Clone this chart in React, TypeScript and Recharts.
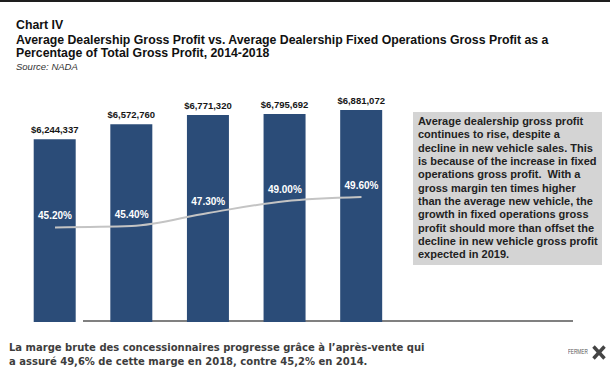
import React from 'react'
import { ComposedChart, Bar, Line, XAxis, YAxis, LabelList } from 'recharts'

const years = ['2014', '2015', '2016', '2017', '2018']
const grossProfit = [6244337, 6572760, 6771320, 6795692, 6881072]
const fixedOpsShare = [45.2, 45.4, 47.3, 49.0, 49.6]

const data = years.map((year, i) => ({
  year,
  profit: grossProfit[i],
  share: fixedOpsShare[i],
}))

const FONT = '"Liberation Sans", Arial, Helvetica, sans-serif'

const fmtDollar = (v: number) => '$' + Number(v).toLocaleString('en-US')
const fmtPct = (v: number) => Number(v).toFixed(2) + '%'

export default function App() {
  return (
    <div
      style={{
        position: 'absolute',
        left: 0,
        top: 0,
        width: 610,
        height: 370,
        background: '#fff',
        overflow: 'hidden',
        fontFamily: FONT,
      }}
    >
      <div style={{ position: 'absolute', left: 0, top: 0, width: 610, height: 2, background: '#1e1e1e' }} />

      <div style={{ position: 'absolute', left: 16, top: 19, fontSize: 12.3, lineHeight: '12px', fontWeight: 700, color: '#111' }}>
        Chart IV
      </div>
      <div style={{ position: 'absolute', left: 16, top: 33.6, fontSize: 12.3, lineHeight: '13.3px', fontWeight: 700, color: '#111', whiteSpace: 'nowrap' }}>
        Average Dealership Gross Profit vs. Average Dealership Fixed Operations Gross Profit as a
        <br />
        Percentage of Total Gross Profit, 2014-2018
      </div>
      <div style={{ position: 'absolute', left: 16, top: 62, fontSize: 9.5, lineHeight: '10px', fontStyle: 'italic', color: '#333' }}>
        Source: NADA
      </div>

      {/* baseline rule, drawn behind the bars */}
      <div style={{ position: 'absolute', left: 83, top: 320, width: 490, height: 1.5, background: '#808080' }} />

      <div style={{ position: 'absolute', left: 0, top: 0 }}>
        <ComposedChart
          width={610}
          height={370}
          data={data}
          margin={{ top: 104.6, right: 210.2, bottom: 48, left: 16.7 }}
        >
          <XAxis dataKey="year" hide />
          <YAxis yAxisId="left" hide domain={[2250000, 7000000]} />
          <YAxis yAxisId="right" orientation="right" hide domain={[31.5, 63]} />
          <Bar yAxisId="left" dataKey="profit" fill="#2b4c78" barSize={42} isAnimationActive={false}>
            <LabelList
              dataKey="profit"
              position="top"
              offset={6}
              formatter={fmtDollar}
              style={{ fontFamily: FONT, fontSize: 9.5, fontWeight: 700, fill: '#161616' }}
            />
          </Bar>
          <Line
            yAxisId="right"
            type="monotone"
            dataKey="share"
            stroke="#c4c4c4"
            strokeWidth={2}
            dot={false}
            activeDot={false}
            isAnimationActive={false}
          >
            <LabelList
              dataKey="share"
              position="top"
              offset={8}
              formatter={fmtPct}
              style={{ fontFamily: FONT, fontSize: 10, fontWeight: 700, fill: '#ffffff' }}
            />
          </Line>
        </ComposedChart>
      </div>

      <div
        style={{
          position: 'absolute',
          left: 413,
          top: 112,
          width: 189,
          height: 153,
          boxSizing: 'border-box',
          padding: '3px 0 0 5px',
          background: '#d4d4d4',
          fontSize: 11,
          lineHeight: '13.33px',
          fontWeight: 700,
          color: '#222',
        }}
      >
        Average dealership gross profit
        <br />
        continues to rise, despite a
        <br />
        decline in new vehicle sales. This
        <br />
        is because of the increase in fixed
        <br />
        operations gross profit.&nbsp; With a
        <br />
        gross margin ten times higher
        <br />
        than the average new vehicle, the
        <br />
        growth in fixed operations gross
        <br />
        profit should more than offset the
        <br />
        decline in new vehicle gross profit
        <br />
        expected in 2019.
      </div>

      <div
        style={{
          position: 'absolute',
          left: 9,
          top: 341.2,
          fontFamily: '"DejaVu Sans", Verdana, sans-serif',
          fontSize: 10,
          lineHeight: '13.7px',
          fontWeight: 700,
          color: '#3d3d3d',
          whiteSpace: 'nowrap',
        }}
      >
        La marge brute des concessionnaires progresse grâce à l’après-vente qui
        <br />
        a assuré 49,6% de cette marge en 2018, contre 45,2% en 2014.
      </div>

      <div
        style={{
          position: 'absolute',
          left: 567.5,
          top: 348.3,
          fontSize: 6.5,
          lineHeight: '7px',
          color: '#555',
          whiteSpace: 'nowrap',
          transform: 'scaleX(0.72)',
          transformOrigin: 'left center',
        }}
      >
        FERMER
      </div>
      <svg style={{ position: 'absolute', left: 592, top: 344.5 }} width={14} height={15}>
        <line x1={1.5} y1={1.5} x2={12.5} y2={13.5} stroke="#444" strokeWidth={3.4} />
        <line x1={12.5} y1={1.5} x2={1.5} y2={13.5} stroke="#444" strokeWidth={3.4} />
      </svg>
    </div>
  )
}
